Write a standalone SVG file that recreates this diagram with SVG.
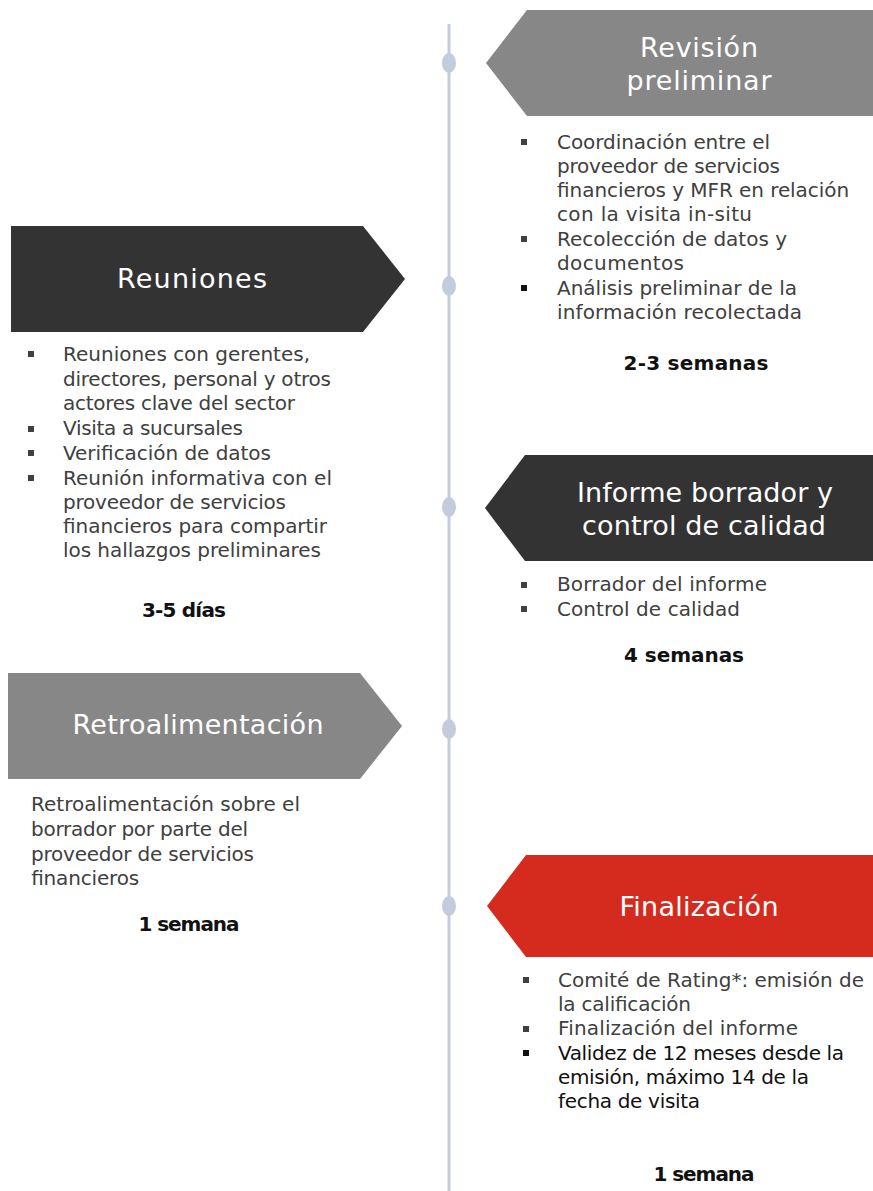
<svg xmlns="http://www.w3.org/2000/svg" width="873" height="1191" viewBox="0 0 873 1191">
<style>
.hd{font-family:"DejaVu Sans","Liberation Sans",sans-serif;font-size:27px;fill:#ffffff;text-anchor:middle}
.tx{font-family:"DejaVu Sans","Liberation Sans",sans-serif;font-size:20px;fill:#404040}
.tk{font-family:"DejaVu Sans","Liberation Sans",sans-serif;font-size:20px;fill:#111111}
.bd{font-family:"DejaVu Sans","Liberation Sans",sans-serif;font-size:20px;font-weight:bold;fill:#111111;text-anchor:middle}
.bl{fill:#404040}
.bk{fill:#111111}
.dot{fill:#c3ccdc}
</style>
<rect width="873" height="1191" fill="#ffffff"/>
<g id="connectors">
<line x1="449" y1="24" x2="449" y2="1191" stroke="#c3ccdc" stroke-width="3"/>
<ellipse class="dot" cx="449" cy="63" rx="7" ry="10"/>
<ellipse class="dot" cx="449" cy="286" rx="7" ry="10"/>
<ellipse class="dot" cx="449" cy="507" rx="7" ry="10"/>
<ellipse class="dot" cx="449" cy="729" rx="7" ry="10"/>
<ellipse class="dot" cx="449" cy="906" rx="7" ry="10"/>
</g>
<g id="revision">
<polygon points="527,10 873,10 873,116 527,116 486,63" fill="#878787"/>
<text class="hd" x="699" y="57" textLength="118">Revisión</text>
<text class="hd" x="699" y="90" textLength="145">preliminar</text>
<rect class="bl" x="521" y="139" width="6" height="6"/>
<text class="tx" x="557" y="149" textLength="213">Coordinación entre el</text>
<text class="tx" x="557" y="173" textLength="223">proveedor de servicios</text>
<text class="tx" x="557" y="197" textLength="292">financieros y MFR en relación</text>
<text class="tx" x="557" y="221" textLength="195">con la visita in-situ</text>
<rect class="bl" x="521" y="236" width="6" height="6"/>
<text class="tx" x="557" y="246" textLength="230">Recolección de datos y</text>
<text class="tx" x="557" y="270" textLength="127">documentos</text>
<rect class="bk" x="521" y="285" width="6" height="6"/>
<text class="tx" x="557" y="295" textLength="240">Análisis preliminar de la</text>
<text class="tx" x="557" y="319" textLength="245">información recolectada</text>
<text class="bd" x="696" y="370" textLength="145">2-3 semanas</text>
</g>
<g id="reuniones">
<polygon points="11,226 363,226 405,279 363,332 11,332" fill="#333333"/>
<text class="hd" x="192" y="288" textLength="150">Reuniones</text>
<rect class="bl" x="28" y="351" width="6" height="6"/>
<text class="tx" x="63" y="361" textLength="247">Reuniones con gerentes,</text>
<text class="tx" x="63" y="386" textLength="268">directores, personal y otros</text>
<text class="tx" x="63" y="410" textLength="232">actores clave del sector</text>
<rect class="bl" x="28" y="426" width="6" height="6"/>
<text class="tx" x="63" y="435" textLength="180">Visita a sucursales</text>
<rect class="bl" x="28" y="450" width="6" height="6"/>
<text class="tx" x="63" y="460" textLength="208">Verificación de datos</text>
<rect class="bl" x="28" y="475" width="6" height="6"/>
<text class="tx" x="63" y="485" textLength="269">Reunión informativa con el</text>
<text class="tx" x="63" y="509" textLength="223">proveedor de servicios</text>
<text class="tx" x="63" y="533" textLength="264">financieros para compartir</text>
<text class="tx" x="63" y="557" textLength="258">los hallazgos preliminares</text>
<text class="bd" x="184" y="617" textLength="84">3-5 días</text>
</g>
<g id="informe">
<polygon points="525,455 873,455 873,561 525,561 485,508" fill="#333333"/>
<text class="hd" x="705" y="502" textLength="256">Informe borrador y</text>
<text class="hd" x="704" y="535" textLength="244">control de calidad</text>
<rect class="bl" x="521" y="582" width="6" height="6"/>
<text class="tx" x="557" y="591" textLength="210">Borrador del informe</text>
<rect class="bl" x="521" y="606" width="6" height="6"/>
<text class="tx" x="557" y="616" textLength="183">Control de calidad</text>
<text class="bd" x="684" y="662" textLength="120">4 semanas</text>
</g>
<g id="retroalimentacion">
<polygon points="8,673 360,673 402,726 360,779 8,779" fill="#878787"/>
<text class="hd" x="198" y="734" textLength="251">Retroalimentación</text>
<text class="tx" x="31" y="811" textLength="269">Retroalimentación sobre el</text>
<text class="tx" x="31" y="836" textLength="217">borrador por parte del</text>
<text class="tx" x="31" y="861" textLength="223">proveedor de servicios</text>
<text class="tx" x="31" y="885" textLength="108">financieros</text>
<text class="bd" x="189" y="931" textLength="101">1 semana</text>
</g>
<g id="finalizacion">
<polygon points="526,855 873,855 873,957 526,957 487,906" fill="#d52b1e"/>
<text class="hd" x="699" y="916" textLength="159">Finalización</text>
<rect class="bl" x="523" y="977" width="6" height="6"/>
<text class="tx" x="558" y="987" textLength="306">Comité de Rating*: emisión de</text>
<text class="tx" x="558" y="1011" textLength="133">la calificación</text>
<rect class="bl" x="523" y="1026" width="6" height="6"/>
<text class="tx" x="558" y="1035" textLength="240">Finalización del informe</text>
<rect class="bk" x="523" y="1050" width="6" height="6"/>
<text class="tk" x="558" y="1060" textLength="286">Validez de 12 meses desde la</text>
<text class="tk" x="558" y="1084" textLength="251">emisión, máximo 14 de la</text>
<text class="tk" x="558" y="1108" textLength="142">fecha de visita</text>
<text class="bd" x="704" y="1181" textLength="101">1 semana</text>
</g>
</svg>
